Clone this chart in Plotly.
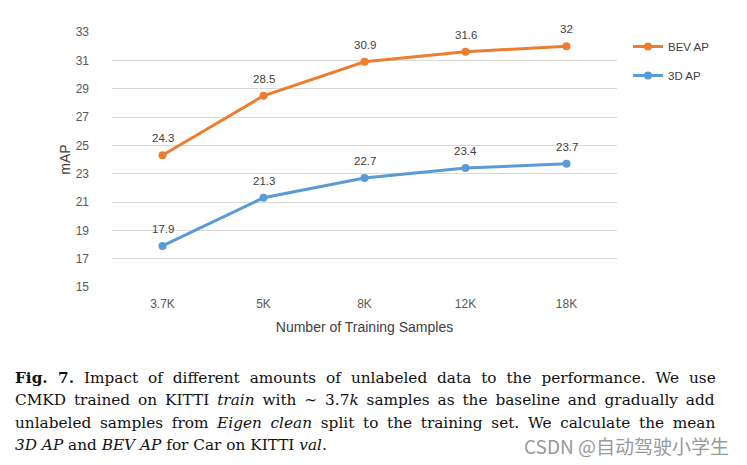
import plotly.graph_objects as go

categories = ["3.7K", "5K", "8K", "12K", "18K"]
bev_ap = [24.3, 28.5, 30.9, 31.6, 32]
ap_3d = [17.9, 21.3, 22.7, 23.4, 23.7]
y_ticks = [15, 17, 19, 21, 23, 25, 27, 29, 31, 33]

caption_lines = [
    "<b>Fig. 7.</b> Impact of different amounts of unlabeled data to the performance. We use",
    "CMKD trained on KITTI <i>train</i> with ∼ 3.7<i>k</i> samples as the baseline and gradually add",
    "unlabeled samples from <i>Eigen clean</i> split to the training set. We calculate the mean",
    "<i>3D AP</i> and <i>BEV AP</i> for Car on KITTI <i>val</i>.",
]
watermark = "CSDN @自动驾驶小学生"

ORANGE = "#ED7D31"
BLUE = "#5B9BD5"
sans = "Liberation Sans, Arial, sans-serif"

# page offset (body margin) compensation
OX, OY = 8, 8
L, T = 112 - OX, 32 - OY
PW, PH = 505, 255

fig = go.Figure()
for name, vals, col, grp in [("BEV AP", bev_ap, ORANGE, "a"), ("3D AP", ap_3d, BLUE, "b")]:
    fig.add_trace(go.Scatter(
        x=categories, y=vals, name=name, mode="lines+markers",
        line=dict(color=col, width=3), marker=dict(size=8, color=col),
        legendgroup=grp, cliponaxis=False,
    ))
    for c, v in zip(categories, vals):
        fig.add_annotation(x=c, y=v, text=f"{v:g}", showarrow=False,
                           yshift=17, font=dict(size=11.5, color="#404040", family=sans))

fig.update_layout(
    width=747, height=465,
    margin=dict(l=L, r=747 - L - PW, t=T, b=465 - T - PH),
    paper_bgcolor="white", plot_bgcolor="white",
    font=dict(family=sans, size=11, color="#595959"),
    showlegend=True,
    legend=dict(x=(628 - 112) / PW, y=1.0, xanchor="left", yanchor="top",
                font=dict(size=11.5, color="#404040"), tracegroupgap=10,
                bgcolor="rgba(0,0,0,0)"),
    xaxis=dict(type="category", range=[-0.5, 4.5], showgrid=False,
               showline=False, ticks="", tickfont=dict(size=12, color="#595959"),
               ticklabelstandoff=8,
               title=dict(text="Number of Training Samples", font=dict(size=14, color="#404040"), standoff=12)),
    yaxis=dict(range=[15, 33], tickvals=y_ticks, showgrid=True, gridcolor="#D9D9D9",
               gridwidth=1, zeroline=False, showline=False, ticks="",
               tickfont=dict(size=12, color="#595959"), ticklabelstandoff=22,
               title=dict(text="mAP", font=dict(size=14, color="#404040"), standoff=1)),
)

# justification: widen inter-word gaps with extra unicode spaces
extra_gap = ["\u2004", "\u2009", "\u2005", ""]
ys = [378, 400, 423, 445]
for line, yp, gap in zip(caption_lines, ys, extra_gap):
    txt = line.replace(" ", " " + gap) if gap else line
    fig.add_annotation(
        text=txt, xref="paper", yref="paper",
        x=(13 - 112) / PW, y=(287 - yp) / PH,
        xanchor="left", yanchor="middle", showarrow=False,
        font=dict(family="DejaVu Serif, serif", size=15.3, color="#111111"),
    )

fig.add_annotation(
    text=watermark, xref="paper", yref="paper",
    x=(731 - 112) / PW, y=(287 - 445) / PH,
    xanchor="right", yanchor="middle", showarrow=False,
    font=dict(family="Noto Sans CJK SC, sans-serif", size=19, color="#999999"),
)

fig.write_html("out.html")
